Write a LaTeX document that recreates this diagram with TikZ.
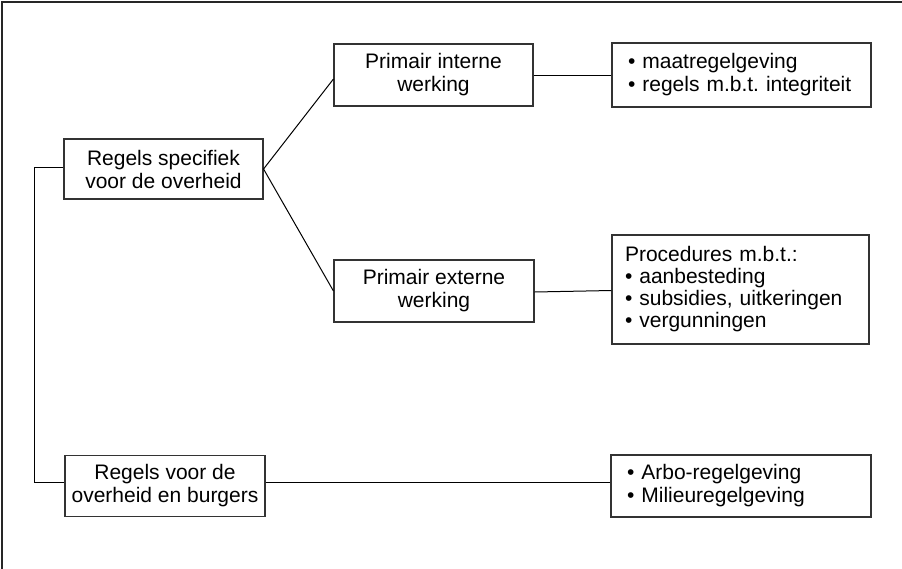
\documentclass[tikz,border=0pt]{standalone}
\usepackage{fontspec}
\setmainfont{Liberation Sans}
\frenchspacing
\begin{document}
\begin{tikzpicture}[x=1pt,y=-1pt,
  box/.style={draw=black!80, line width=1.1pt, inner sep=0pt, font=\fontsize{21}{23}\selectfont},
  cbox/.style={box, align=center},
  lbox/.style={box, align=left, inner xsep=16pt},
  conn/.style={draw=black, line width=1pt}]
\useasboundingbox (0,0) rectangle (902,568);
\fill[white] (0,0) rectangle (902,568);
\draw[black!85, line width=1.4pt] (2,575) -- (2,2) -- (910,2);

\node[cbox, minimum width=199pt, minimum height=60pt] (b1) at (163.5,169) {Regels specifiek\\voor de overheid};
\node[cbox, minimum width=199pt, minimum height=62pt] (b2) at (433.5,75) {Primair interne\\werking};
\node[cbox, minimum width=200pt, minimum height=62pt] (b3) at (434,291) {Primair externe\\werking};
\node[cbox, minimum width=200pt, minimum height=61pt] (b4) at (165,486) {Regels voor de\\overheid en burgers};

\node[lbox, text width=227pt, minimum height=64pt] (b5) at (741.5,75) {• maatregelgeving\\• regels m.b.t. integriteit};
\node[lbox, text width=231pt, inner xsep=13pt, minimum height=109pt, font=\fontsize{21}{22}\selectfont] (b6) at (740.5,289.5) {Procedures m.b.t.:\\• aanbesteding\\• subsidies, uitkeringen\\• vergunningen};
\node[lbox, text width=228pt, minimum height=62pt] (b7) at (741,486) {• Arbo-regelgeving\\• Milieuregelgeving};

\coordinate (trunk) at (34,0);
\draw[conn] ([yshift=2pt]b1.west) -- ([yshift=2pt]b1.west -| trunk) |- ([yshift=4pt]b4.west);
\draw[conn] (b1.east) -- ([yshift=-4pt]b2.west);
\draw[conn] (b1.east) -- (b3.west);
\draw[conn] (b2.east) -- (b5.west);
\draw[conn] ([yshift=-1pt]b3.east) -- ([yshift=-1pt]b6.west);
\draw[conn] ([yshift=4pt]b4.east) -- ([yshift=4pt]b7.west);
\end{tikzpicture}
\end{document}
